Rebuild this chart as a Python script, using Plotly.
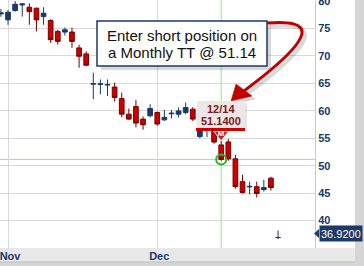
import plotly.graph_objects as go

# ---------------- data ----------------
dates = ["2011-10-31", "2011-11-01", "2011-11-02", "2011-11-03", "2011-11-04",
         "2011-11-07", "2011-11-08", "2011-11-09", "2011-11-10", "2011-11-11",
         "2011-11-14", "2011-11-15", "2011-11-16", "2011-11-17", "2011-11-18",
         "2011-11-21", "2011-11-22", "2011-11-23", "2011-11-25", "2011-11-28",
         "2011-11-29", "2011-11-30", "2011-12-01", "2011-12-02", "2011-12-05",
         "2011-12-06", "2011-12-07", "2011-12-08", "2011-12-09", "2011-12-12",
         "2011-12-13", "2011-12-14", "2011-12-15", "2011-12-16", "2011-12-19",
         "2011-12-20", "2011-12-21", "2011-12-22", "2011-12-23", "2011-12-27"]
opens = [77.65, 76.56, 78.25, 79.28, 78.86, 78.68, 77.16, 76.44, 74.45, 74.34,
         74.34, 71.45, 70.36, 64.85, 64.81, 64.68, 64.32, 62.22, 59.38, 60.77,
         58.48, 59.08, 59.69, 58.35, 59.45, 59.38, 59.69, 60.29, 55.30, 56.40,
         56.30, 53.78, 54.32, 51.25, 47.09, 46.13, 46.18, 45.65, 47.72, 36.90]
highs = [78.55, 78.37, 80.00, 79.51, 79.58, 78.80, 78.86, 76.69, 74.76, 75.17,
         75.17, 72.04, 70.83, 66.93, 65.71, 65.71, 65.12, 63.31, 60.41, 61.97,
         58.97, 61.19, 59.87, 60.16, 60.16, 60.60, 61.50, 60.65, 57.00, 56.60,
         56.60, 54.50, 54.86, 51.97, 48.35, 47.09, 47.09, 47.45, 47.99, 38.20]
lows = [77.11, 75.66, 78.07, 77.16, 75.66, 74.45, 75.66, 72.35, 72.04, 73.72,
        71.45, 67.83, 68.12, 62.10, 63.00, 62.69, 61.68, 58.79, 58.35, 56.98,
        56.54, 58.79, 57.27, 58.17, 58.61, 58.79, 59.38, 58.12, 55.00, 55.20,
        54.00, 50.90, 50.89, 45.82, 44.92, 44.74, 44.20, 45.28, 45.46, 36.60]
closes = [77.83, 77.96, 79.40, 79.46, 78.06, 76.56, 77.77, 72.95, 72.64, 74.76,
          72.64, 69.93, 68.30, 64.95, 64.90, 64.78, 62.40, 59.38, 58.48, 57.76,
          57.45, 60.41, 57.58, 58.79, 59.55, 59.98, 60.60, 58.48, 56.50, 56.50,
          54.30, 51.14, 51.25, 46.18, 45.10, 46.23, 44.92, 46.00, 46.00, 36.92]

x_tick_dates = ["2011-11-01", "2011-12-01"]
x_tick_labels = ["Nov", "Dec"]
y_ticks = [40, 45, 50, 55, 60, 65, 70, 75, 80]

signal_date = "2011-12-14"
signal_price = 51.14
signal_label = "12/14"
signal_marker = "M"
note_lines = ["Enter short position on", "a Monthly TT @ 51.14"]

# ---------------- styling ----------------
NAVY = "#1B3A66"
RED = "#CC0000"
DARKRED = "#7A0000"
GRID = "#D9D9D9"
GREEN_LINE = "#8FE88F"
FONT = "Liberation Sans, Arial, sans-serif"

W, H = 364, 266
PW, PH = 315, 248          # plot area size in pixels
Y_RANGE = [35.0, 80.18]
X_RANGE = [-0.13, 44.2]


def PX(x):
    return x / PW


def PY(y):
    return (PH - y) / PH


def P(x, y):
    return f"{PX(x):.5f},{PY(y):.5f}"


sig_idx = dates.index(signal_date)
last_price = closes[-1]

fig = go.Figure()

fig.add_trace(go.Candlestick(
    x=dates, open=opens, high=highs, low=lows, close=closes,
    increasing=dict(line=dict(color=NAVY, width=1), fillcolor=NAVY),
    decreasing=dict(line=dict(color=DARKRED, width=1), fillcolor=RED),
    whiskerwidth=0, showlegend=False, hoverinfo="skip",
))

# signal marker "M" above the signal candle
fig.add_trace(go.Scatter(
    x=[signal_date], y=[highs[sig_idx] + 1.2], mode="markers+text",
    marker=dict(symbol="triangle-down", size=13, color="#D41515",
                line=dict(color="#FFFFFF", width=1)),
    text=[signal_marker], textposition="middle center",
    textfont=dict(family=FONT, size=8, color="white", weight="bold"),
    showlegend=False, hoverinfo="skip", cliponaxis=False,
))

# green circle at signal price
fig.add_trace(go.Scatter(
    x=[signal_date], y=[signal_price], mode="markers",
    marker=dict(symbol="circle-open", size=10, color="#22B822",
                line=dict(color="#22B822", width=2)),
    showlegend=False, hoverinfo="skip",
))

shapes = []
# frame bands outside plot area
shapes.append(dict(type="rect", xref="paper", yref="paper",
                   x0=PX(0), x1=PX(355), y0=PY(262), y1=PY(248),
                   fillcolor="#E8E8E8", line=dict(width=0), layer="below"))
shapes.append(dict(type="rect", xref="paper", yref="paper",
                   x0=PX(355), x1=PX(370), y0=PY(272), y1=PY(-5),
                   fillcolor="#D6D6D6", line=dict(width=0), layer="below"))
shapes.append(dict(type="rect", xref="paper", yref="paper",
                   x0=PX(-5), x1=PX(370), y0=PY(272), y1=PY(262),
                   fillcolor="#D6D6D6", line=dict(width=0), layer="below"))
shapes.append(dict(type="line", xref="paper", yref="paper",
                   x0=PX(0), x1=PX(355), y0=PY(262), y1=PY(262),
                   line=dict(color="#BEBEBE", width=1), layer="below"))

# green crosshair
shapes.append(dict(type="line", xref="x", yref="paper",
                   x0=sig_idx, x1=sig_idx, y0=0, y1=1,
                   line=dict(color=GREEN_LINE, width=1), layer="below"))
shapes.append(dict(type="line", xref="paper", yref="y",
                   x0=0, x1=1, y0=signal_price, y1=signal_price,
                   line=dict(color=GREEN_LINE, width=1), layer="below"))

# note box (shadow + box)
shapes.append(dict(type="rect", xref="paper", yref="paper",
                   x0=PX(101), x1=PX(271), y0=PY(70), y1=PY(25),
                   fillcolor="rgba(0,0,0,0.15)", line=dict(width=0)))
shapes.append(dict(type="rect", xref="paper", yref="paper",
                   x0=PX(97), x1=PX(267), y0=PY(66), y1=PY(21),
                   fillcolor="white", line=dict(color=NAVY, width=1.5)))

# curved arrow (shadow then arrow)
for dx, dy, col, w in [(3, 3, "rgba(0,0,0,0.15)", 4), (0, 0, "#C00000", 3)]:
    d = (f"M {P(267+dx, 23+dy)} C {P(290+dx, 21+dy)} {P(303+dx, 24+dy)} {P(302+dx, 33+dy)} "
         f"C {P(301+dx, 45+dy)} {P(275+dx, 68+dy)} {P(244+dx, 91+dy)}")
    shapes.append(dict(type="path", xref="paper", yref="paper", path=d,
                       line=dict(color=col, width=w)))
    head = f"M {P(231+dx, 101+dy)} L {P(236+dx, 84+dy)} L {P(252+dx, 96+dy)} Z"
    shapes.append(dict(type="path", xref="paper", yref="paper", path=head,
                       fillcolor=col, line=dict(color=col, width=0.5)))

# signal tag
shapes.append(dict(type="rect", xref="paper", yref="paper",
                   x0=PX(199), x1=PX(247), y0=PY(131), y1=PY(103),
                   fillcolor="rgba(0,0,0,0.10)", line=dict(width=0)))
shapes.append(dict(type="rect", xref="paper", yref="paper",
                   x0=PX(197), x1=PX(245), y0=PY(128), y1=PY(101),
                   fillcolor="#EFE6E6", line=dict(width=0)))
shapes.append(dict(type="rect", xref="paper", yref="paper",
                   x0=PX(196), x1=PX(245), y0=PY(131), y1=PY(128),
                   fillcolor="#D00000", line=dict(width=0)))

# last price pointer
shapes.append(dict(type="path", xref="paper", yref="paper",
                   path=f"M {P(314, 233.5)} L {P(319, 229)} L {P(319, 238)} Z",
                   fillcolor=NAVY, line=dict(width=0)))

annotations = []
for i, line in enumerate(note_lines):
    annotations.append(dict(xref="paper", yref="paper", x=PX(182), y=PY(35 + 17 * i),
                            text=line, showarrow=False, xanchor="center", yanchor="middle",
                            font=dict(family=FONT, size=15, color="#111111")))
annotations.append(dict(xref="paper", yref="paper", x=PX(221), y=PY(109),
                        text=signal_label, showarrow=False, xanchor="center", yanchor="middle",
                        font=dict(family=FONT, size=11, color="#7B1A1A", weight="bold")))
annotations.append(dict(xref="paper", yref="paper", x=PX(221), y=PY(121),
                        text=f"{signal_price:.4f}", showarrow=False, xanchor="center",
                        yanchor="middle",
                        font=dict(family=FONT, size=11, color="#7B1A1A", weight="bold")))
annotations.append(dict(xref="paper", yref="y", x=1, y=last_price, yshift=4, xshift=4,
                        text=f"{last_price:.4f}", showarrow=False, xanchor="left",
                        yanchor="middle", bgcolor=NAVY, borderpad=1, height=13,
                        font=dict(family=FONT, size=11, color="white")))

fig.update_layout(
    width=W, height=H, autosize=False,
    margin=dict(l=0, r=W - PW, t=0, b=H - PH, pad=0, autoexpand=False),
    paper_bgcolor="white", plot_bgcolor="white",
    showlegend=False,
    boxgap=0.25, boxgroupgap=0.12,
    shapes=shapes, annotations=annotations,
    xaxis=dict(type="category", categoryorder="array", categoryarray=dates,
               range=X_RANGE, tickmode="array", tickvals=x_tick_dates,
               ticktext=x_tick_labels, showgrid=True, gridcolor=GRID, gridwidth=1,
               ticks="", zeroline=False, showline=False, automargin=False,
               rangeslider=dict(visible=False), ticklabelshift=2,
               tickfont=dict(family=FONT, size=11, color=NAVY, weight="bold")),
    yaxis=dict(side="right", range=Y_RANGE, tickmode="array", tickvals=y_ticks,
               showgrid=True, gridcolor=GRID, gridwidth=1, ticks="",
               zeroline=False, showline=True, linecolor="#C8C8C8", linewidth=1,
               ticklabeloverflow="allow", automargin=False,
               tickfont=dict(family=FONT, size=11, color=NAVY, weight="bold")),
)

fig.write_html("out.html")
